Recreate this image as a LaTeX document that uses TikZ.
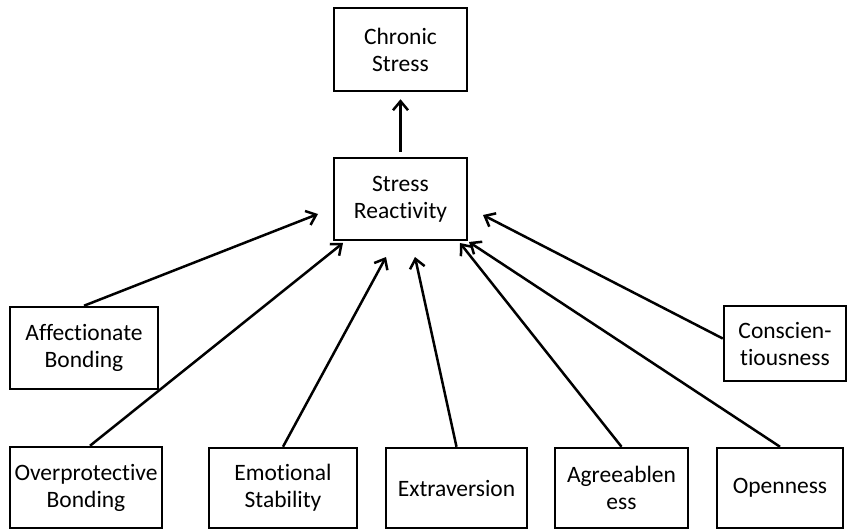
\documentclass[tikz,border=0pt]{standalone}
\usepackage{fontspec}
\setmainfont[Ligatures=NoCommon]{Carlito}
\usetikzlibrary{arrows.meta,calc}
\begin{document}
\begin{tikzpicture}[x=1pt,y=-1pt,
  box/.style={draw=black,line width=2.5pt,rectangle,align=center,inner sep=0pt,
    font=\fontsize{23.5}{27}\selectfont},
  link/.style={line width=2.5pt,-{Straight Barb[length=9pt,width=15pt,line width=2.5pt]}}]
\useasboundingbox (0,0) rectangle (848,532);
\node[box,minimum width=133pt,minimum height=83pt] (cs) at (400.5,49.5) {Chronic\\Stress};
\node[box,minimum width=133pt,minimum height=82pt] (sr) at (400.5,199) {Stress\\Reactivity};
\node[box,minimum width=148pt,minimum height=82pt] (aff) at (84,348) {Affectionate\\Bonding};
\node[box,minimum width=152pt,minimum height=81pt] (ovp) at (86,487.5) {Overprotective\\Bonding};
\node[box,minimum width=148pt,minimum height=80pt] (emo) at (283,488) {Emotional\\Stability};
\node[box,minimum width=141pt,minimum height=80pt] (ext) at (456.5,488) {Extraversion};
\node[box,minimum width=133pt,minimum height=80pt] (agr) at (621.5,488) {Agreeablen\\ess};
\node[box,minimum width=126pt,minimum height=80pt] (opn) at (780,488) {Openness};
\node[box,minimum width=122pt,minimum height=75pt] (con) at (785,343.5) {Conscien-\\tiousness};
\coordinate (t1) at ($(sr.center)+(-82.5,15)$);
\coordinate (t2) at ($(sr.center)+(-57.5,44)$);
\coordinate (t3) at ($(sr.center)+(-14.5,58)$);
\coordinate (t4) at ($(sr.center)+(14.5,58)$);
\coordinate (t5) at ($(sr.center)+(59.5,44)$);
\coordinate (t6) at ($(sr.center)+(68.5,43)$);
\coordinate (t7) at ($(sr.center)+(82.5,16)$);
\draw[link,shorten <=5pt,shorten >=7pt] (sr.north) -- (cs.south);
\draw[link] (aff.north) -- (t1);
\draw[link] ($(ovp.north)+(4,0)$) -- (t2);
\draw[link] (emo.north) -- (t3);
\draw[link] (ext.north) -- (t4);
\draw[link] (agr.north) -- (t5);
\draw[link] (opn.north) -- (t6);
\draw[link] ($(con.west)+(0,-5)$) -- (t7);
\end{tikzpicture}
\end{document}
